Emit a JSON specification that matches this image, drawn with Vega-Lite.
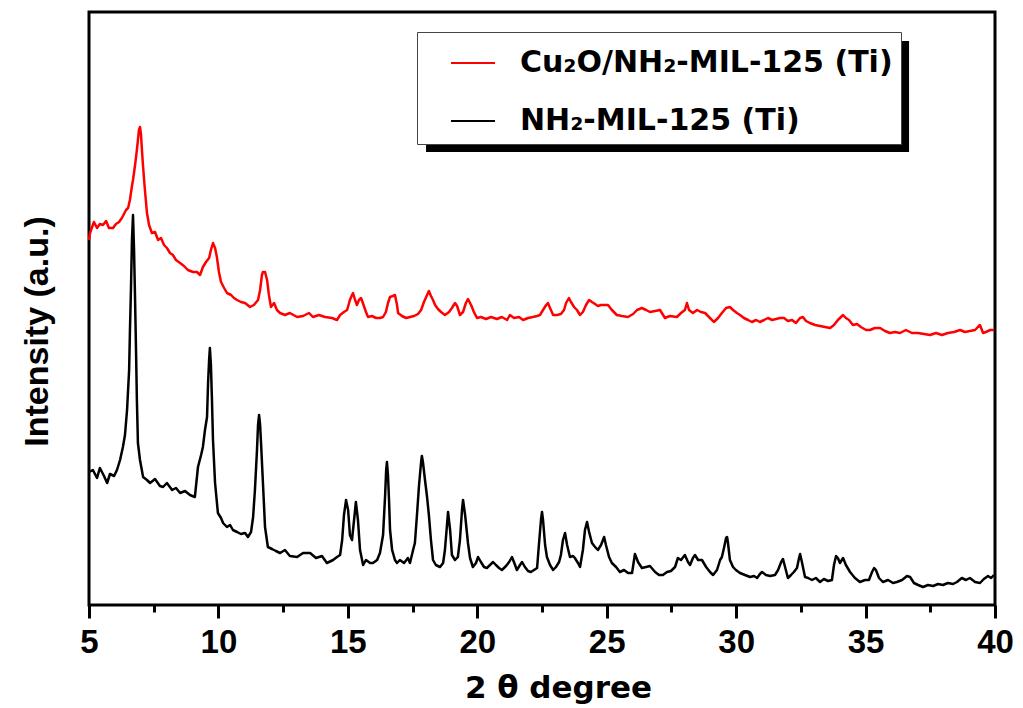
{
  "$schema": "https://vega.github.io/schema/vega-lite/v6.json",
  "autosize": {"type": "none"},
  "padding": {"left": 89, "top": 12, "right": 28, "bottom": 103},
  "width": 906,
  "height": 593,
  "background": "white",
  "datasets": {
    "composite": [
      {"two_theta":5.00,"intensity":365},{"two_theta":5.04,"intensity":372},{"two_theta":5.12,"intensity":378},{"two_theta":5.19,"intensity":383},{"two_theta":5.31,"intensity":377},{"two_theta":5.42,"intensity":381},{"two_theta":5.54,"intensity":380},{"two_theta":5.66,"intensity":384},{"two_theta":5.77,"intensity":377},{"two_theta":5.93,"intensity":377},{"two_theta":6.04,"intensity":381},{"two_theta":6.16,"intensity":383},{"two_theta":6.27,"intensity":387},{"two_theta":6.35,"intensity":391},{"two_theta":6.43,"intensity":395},{"two_theta":6.51,"intensity":397},{"two_theta":6.58,"intensity":405},{"two_theta":6.66,"intensity":419},{"two_theta":6.70,"intensity":425},{"two_theta":6.78,"intensity":440},{"two_theta":6.85,"intensity":455},{"two_theta":6.89,"intensity":465},{"two_theta":6.93,"intensity":475},{"two_theta":6.97,"intensity":478},{"two_theta":7.01,"intensity":470},{"two_theta":7.05,"intensity":453},{"two_theta":7.09,"intensity":438},{"two_theta":7.16,"intensity":415},{"two_theta":7.24,"intensity":392},{"two_theta":7.32,"intensity":380},{"two_theta":7.43,"intensity":372},{"two_theta":7.55,"intensity":373},{"two_theta":7.67,"intensity":365},{"two_theta":7.78,"intensity":367},{"two_theta":7.90,"intensity":360},{"two_theta":8.01,"intensity":357},{"two_theta":8.13,"intensity":352},{"two_theta":8.24,"intensity":350},{"two_theta":8.36,"intensity":345},{"two_theta":8.52,"intensity":342},{"two_theta":8.67,"intensity":339},{"two_theta":8.82,"intensity":335},{"two_theta":9.02,"intensity":333},{"two_theta":9.17,"intensity":333},{"two_theta":9.29,"intensity":330},{"two_theta":9.40,"intensity":338},{"two_theta":9.52,"intensity":343},{"two_theta":9.64,"intensity":347},{"two_theta":9.71,"intensity":355},{"two_theta":9.79,"intensity":362},{"two_theta":9.87,"intensity":357},{"two_theta":9.94,"intensity":348},{"two_theta":10.02,"intensity":333},{"two_theta":10.10,"intensity":323},{"two_theta":10.22,"intensity":317},{"two_theta":10.33,"intensity":312},{"two_theta":10.49,"intensity":310},{"two_theta":10.60,"intensity":307},{"two_theta":10.72,"intensity":305},{"two_theta":10.87,"intensity":303},{"two_theta":11.03,"intensity":302},{"two_theta":11.22,"intensity":298},{"two_theta":11.37,"intensity":300},{"two_theta":11.53,"intensity":305},{"two_theta":11.61,"intensity":315},{"two_theta":11.68,"intensity":330},{"two_theta":11.72,"intensity":333},{"two_theta":11.80,"intensity":333},{"two_theta":11.88,"intensity":325},{"two_theta":11.95,"intensity":310},{"two_theta":12.03,"intensity":298},{"two_theta":12.15,"intensity":302},{"two_theta":12.26,"intensity":295},{"two_theta":12.38,"intensity":292},{"two_theta":12.57,"intensity":290},{"two_theta":12.76,"intensity":292},{"two_theta":13.04,"intensity":288},{"two_theta":13.27,"intensity":289},{"two_theta":13.50,"intensity":292},{"two_theta":13.65,"intensity":288},{"two_theta":13.88,"intensity":290},{"two_theta":14.12,"intensity":288},{"two_theta":14.39,"intensity":287},{"two_theta":14.58,"intensity":285},{"two_theta":14.70,"intensity":290},{"two_theta":14.85,"intensity":293},{"two_theta":14.97,"intensity":295},{"two_theta":15.08,"intensity":305},{"two_theta":15.16,"intensity":310},{"two_theta":15.20,"intensity":312},{"two_theta":15.28,"intensity":305},{"two_theta":15.35,"intensity":300},{"two_theta":15.43,"intensity":305},{"two_theta":15.51,"intensity":307},{"two_theta":15.58,"intensity":302},{"two_theta":15.70,"intensity":293},{"two_theta":15.78,"intensity":288},{"two_theta":15.93,"intensity":289},{"two_theta":16.09,"intensity":287},{"two_theta":16.24,"intensity":287},{"two_theta":16.36,"intensity":288},{"two_theta":16.47,"intensity":293},{"two_theta":16.55,"intensity":302},{"two_theta":16.63,"intensity":308},{"two_theta":16.74,"intensity":309},{"two_theta":16.82,"intensity":310},{"two_theta":16.90,"intensity":300},{"two_theta":16.94,"intensity":292},{"two_theta":17.09,"intensity":289},{"two_theta":17.25,"intensity":287},{"two_theta":17.40,"intensity":288},{"two_theta":17.56,"intensity":289},{"two_theta":17.71,"intensity":291},{"two_theta":17.83,"intensity":295},{"two_theta":17.94,"intensity":303},{"two_theta":18.06,"intensity":310},{"two_theta":18.13,"intensity":314},{"two_theta":18.21,"intensity":309},{"two_theta":18.29,"intensity":305},{"two_theta":18.37,"intensity":300},{"two_theta":18.48,"intensity":296},{"two_theta":18.60,"intensity":293},{"two_theta":18.75,"intensity":290},{"two_theta":18.91,"intensity":293},{"two_theta":19.02,"intensity":297},{"two_theta":19.14,"intensity":302},{"two_theta":19.22,"intensity":299},{"two_theta":19.33,"intensity":290},{"two_theta":19.45,"intensity":293},{"two_theta":19.56,"intensity":302},{"two_theta":19.64,"intensity":306},{"two_theta":19.76,"intensity":300},{"two_theta":19.87,"intensity":293},{"two_theta":19.99,"intensity":287},{"two_theta":20.14,"intensity":288},{"two_theta":20.34,"intensity":286},{"two_theta":20.53,"intensity":288},{"two_theta":20.76,"intensity":286},{"two_theta":20.95,"intensity":288},{"two_theta":21.15,"intensity":285},{"two_theta":21.26,"intensity":290},{"two_theta":21.42,"intensity":287},{"two_theta":21.61,"intensity":288},{"two_theta":21.77,"intensity":285},{"two_theta":21.96,"intensity":287},{"two_theta":22.15,"intensity":288},{"two_theta":22.31,"intensity":289},{"two_theta":22.42,"intensity":290},{"two_theta":22.54,"intensity":295},{"two_theta":22.66,"intensity":300},{"two_theta":22.73,"intensity":302},{"two_theta":22.81,"intensity":297},{"two_theta":22.93,"intensity":290},{"two_theta":23.08,"intensity":290},{"two_theta":23.23,"intensity":291},{"two_theta":23.35,"intensity":295},{"two_theta":23.43,"intensity":302},{"two_theta":23.54,"intensity":307},{"two_theta":23.62,"intensity":303},{"two_theta":23.74,"intensity":298},{"two_theta":23.85,"intensity":295},{"two_theta":23.97,"intensity":290},{"two_theta":24.08,"intensity":293},{"two_theta":24.20,"intensity":300},{"two_theta":24.32,"intensity":305},{"two_theta":24.43,"intensity":303},{"two_theta":24.55,"intensity":301},{"two_theta":24.66,"intensity":299},{"two_theta":24.78,"intensity":300},{"two_theta":24.93,"intensity":300},{"two_theta":25.05,"intensity":300},{"two_theta":25.20,"intensity":295},{"two_theta":25.39,"intensity":290},{"two_theta":25.59,"intensity":289},{"two_theta":25.82,"intensity":288},{"two_theta":26.02,"intensity":291},{"two_theta":26.17,"intensity":295},{"two_theta":26.36,"intensity":297},{"two_theta":26.52,"intensity":295},{"two_theta":26.67,"intensity":293},{"two_theta":26.87,"intensity":294},{"two_theta":27.06,"intensity":295},{"two_theta":27.25,"intensity":287},{"two_theta":27.44,"intensity":289},{"two_theta":27.71,"intensity":288},{"two_theta":27.87,"intensity":292},{"two_theta":28.02,"intensity":295},{"two_theta":28.10,"intensity":302},{"two_theta":28.18,"intensity":295},{"two_theta":28.33,"intensity":292},{"two_theta":28.49,"intensity":295},{"two_theta":28.64,"intensity":293},{"two_theta":28.80,"intensity":292},{"two_theta":28.99,"intensity":287},{"two_theta":29.14,"intensity":283},{"two_theta":29.30,"intensity":287},{"two_theta":29.45,"intensity":292},{"two_theta":29.61,"intensity":297},{"two_theta":29.76,"intensity":298},{"two_theta":29.88,"intensity":295},{"two_theta":30.03,"intensity":292},{"two_theta":30.15,"intensity":290},{"two_theta":30.30,"intensity":287},{"two_theta":30.46,"intensity":285},{"two_theta":30.61,"intensity":283},{"two_theta":30.77,"intensity":285},{"two_theta":30.92,"intensity":283},{"two_theta":31.08,"intensity":285},{"two_theta":31.23,"intensity":287},{"two_theta":31.39,"intensity":285},{"two_theta":31.54,"intensity":286},{"two_theta":31.69,"intensity":287},{"two_theta":31.85,"intensity":287},{"two_theta":32.00,"intensity":284},{"two_theta":32.16,"intensity":285},{"two_theta":32.31,"intensity":282},{"two_theta":32.47,"intensity":287},{"two_theta":32.58,"intensity":288},{"two_theta":32.70,"intensity":284},{"two_theta":32.85,"intensity":282},{"two_theta":33.05,"intensity":280},{"two_theta":33.24,"intensity":279},{"two_theta":33.43,"intensity":278},{"two_theta":33.63,"intensity":277},{"two_theta":33.78,"intensity":280},{"two_theta":33.93,"intensity":285},{"two_theta":34.05,"intensity":288},{"two_theta":34.13,"intensity":290},{"two_theta":34.24,"intensity":287},{"two_theta":34.36,"intensity":285},{"two_theta":34.51,"intensity":280},{"two_theta":34.67,"intensity":281},{"two_theta":34.82,"intensity":278},{"two_theta":35.02,"intensity":275},{"two_theta":35.17,"intensity":275},{"two_theta":35.36,"intensity":277},{"two_theta":35.56,"intensity":277},{"two_theta":35.75,"intensity":274},{"two_theta":35.94,"intensity":272},{"two_theta":36.14,"intensity":273},{"two_theta":36.33,"intensity":272},{"two_theta":36.56,"intensity":275},{"two_theta":36.79,"intensity":272},{"two_theta":37.03,"intensity":272},{"two_theta":37.26,"intensity":271},{"two_theta":37.49,"intensity":270},{"two_theta":37.72,"intensity":272},{"two_theta":37.95,"intensity":270},{"two_theta":38.18,"intensity":272},{"two_theta":38.42,"intensity":273},{"two_theta":38.65,"intensity":275},{"two_theta":38.84,"intensity":273},{"two_theta":39.03,"intensity":274},{"two_theta":39.23,"intensity":275},{"two_theta":39.34,"intensity":278},{"two_theta":39.42,"intensity":280},{"two_theta":39.54,"intensity":272},{"two_theta":39.65,"intensity":273},{"two_theta":39.81,"intensity":275},{"two_theta":39.96,"intensity":275}
    ],
    "mof": [
      {"two_theta":5.00,"intensity":133},{"two_theta":5.15,"intensity":135},{"two_theta":5.31,"intensity":127},{"two_theta":5.42,"intensity":137},{"two_theta":5.58,"intensity":129},{"two_theta":5.70,"intensity":122},{"two_theta":5.81,"intensity":131},{"two_theta":5.97,"intensity":129},{"two_theta":6.08,"intensity":135},{"two_theta":6.20,"intensity":145},{"two_theta":6.31,"intensity":158},{"two_theta":6.39,"intensity":170},{"two_theta":6.47,"intensity":195},{"two_theta":6.55,"intensity":235},{"two_theta":6.58,"intensity":272},{"two_theta":6.62,"intensity":315},{"two_theta":6.66,"intensity":365},{"two_theta":6.70,"intensity":390},{"two_theta":6.74,"intensity":355},{"two_theta":6.78,"intensity":305},{"two_theta":6.82,"intensity":250},{"two_theta":6.85,"intensity":205},{"two_theta":6.89,"intensity":162},{"two_theta":6.97,"intensity":145},{"two_theta":7.09,"intensity":128},{"two_theta":7.24,"intensity":125},{"two_theta":7.36,"intensity":122},{"two_theta":7.55,"intensity":126},{"two_theta":7.74,"intensity":119},{"two_theta":7.86,"intensity":118},{"two_theta":8.01,"intensity":122},{"two_theta":8.21,"intensity":115},{"two_theta":8.36,"intensity":117},{"two_theta":8.52,"intensity":112},{"two_theta":8.71,"intensity":114},{"two_theta":8.90,"intensity":110},{"two_theta":9.09,"intensity":108},{"two_theta":9.21,"intensity":138},{"two_theta":9.33,"intensity":150},{"two_theta":9.40,"intensity":158},{"two_theta":9.48,"intensity":175},{"two_theta":9.56,"intensity":188},{"two_theta":9.60,"intensity":222},{"two_theta":9.64,"intensity":245},{"two_theta":9.67,"intensity":257},{"two_theta":9.71,"intensity":240},{"two_theta":9.75,"intensity":205},{"two_theta":9.79,"intensity":165},{"two_theta":9.87,"intensity":122},{"two_theta":9.98,"intensity":92},{"two_theta":10.10,"intensity":87},{"two_theta":10.18,"intensity":82},{"two_theta":10.33,"intensity":78},{"two_theta":10.45,"intensity":80},{"two_theta":10.56,"intensity":75},{"two_theta":10.72,"intensity":73},{"two_theta":10.87,"intensity":71},{"two_theta":11.03,"intensity":72},{"two_theta":11.14,"intensity":68},{"two_theta":11.26,"intensity":73},{"two_theta":11.34,"intensity":88},{"two_theta":11.41,"intensity":115},{"two_theta":11.49,"intensity":155},{"two_theta":11.53,"intensity":180},{"two_theta":11.57,"intensity":190},{"two_theta":11.61,"intensity":180},{"two_theta":11.65,"intensity":160},{"two_theta":11.69,"intensity":138},{"two_theta":11.76,"intensity":100},{"two_theta":11.80,"intensity":78},{"two_theta":11.91,"intensity":58},{"two_theta":12.07,"intensity":56},{"two_theta":12.22,"intensity":54},{"two_theta":12.38,"intensity":52},{"two_theta":12.57,"intensity":55},{"two_theta":12.76,"intensity":49},{"two_theta":13.04,"intensity":48},{"two_theta":13.27,"intensity":52},{"two_theta":13.54,"intensity":52},{"two_theta":13.77,"intensity":47},{"two_theta":14.00,"intensity":49},{"two_theta":14.19,"intensity":42},{"two_theta":14.43,"intensity":45},{"two_theta":14.58,"intensity":48},{"two_theta":14.70,"intensity":50},{"two_theta":14.78,"intensity":65},{"two_theta":14.85,"intensity":90},{"two_theta":14.93,"intensity":105},{"two_theta":15.01,"intensity":95},{"two_theta":15.08,"intensity":70},{"two_theta":15.16,"intensity":65},{"two_theta":15.24,"intensity":85},{"two_theta":15.31,"intensity":103},{"two_theta":15.39,"intensity":85},{"two_theta":15.47,"intensity":55},{"two_theta":15.59,"intensity":40},{"two_theta":15.70,"intensity":45},{"two_theta":15.86,"intensity":42},{"two_theta":15.97,"intensity":42},{"two_theta":16.13,"intensity":45},{"two_theta":16.24,"intensity":52},{"two_theta":16.36,"intensity":70},{"two_theta":16.44,"intensity":110},{"two_theta":16.48,"intensity":135},{"two_theta":16.51,"intensity":143},{"two_theta":16.55,"intensity":130},{"two_theta":16.59,"intensity":105},{"two_theta":16.63,"intensity":75},{"two_theta":16.71,"intensity":55},{"two_theta":16.82,"intensity":45},{"two_theta":16.90,"intensity":42},{"two_theta":17.01,"intensity":45},{"two_theta":17.17,"intensity":42},{"two_theta":17.32,"intensity":47},{"two_theta":17.40,"intensity":42},{"two_theta":17.52,"intensity":55},{"two_theta":17.59,"intensity":62},{"two_theta":17.67,"intensity":90},{"two_theta":17.75,"intensity":120},{"two_theta":17.83,"intensity":143},{"two_theta":17.86,"intensity":149},{"two_theta":17.90,"intensity":143},{"two_theta":17.98,"intensity":125},{"two_theta":18.06,"intensity":108},{"two_theta":18.13,"intensity":90},{"two_theta":18.21,"intensity":65},{"two_theta":18.29,"intensity":45},{"two_theta":18.40,"intensity":40},{"two_theta":18.56,"intensity":38},{"two_theta":18.68,"intensity":42},{"two_theta":18.75,"intensity":55},{"two_theta":18.83,"intensity":80},{"two_theta":18.87,"intensity":93},{"two_theta":18.95,"intensity":75},{"two_theta":19.02,"intensity":50},{"two_theta":19.14,"intensity":45},{"two_theta":19.25,"intensity":48},{"two_theta":19.33,"intensity":65},{"two_theta":19.41,"intensity":95},{"two_theta":19.45,"intensity":105},{"two_theta":19.53,"intensity":90},{"two_theta":19.64,"intensity":62},{"two_theta":19.72,"intensity":47},{"two_theta":19.83,"intensity":38},{"two_theta":19.95,"intensity":42},{"two_theta":20.03,"intensity":48},{"two_theta":20.14,"intensity":43},{"two_theta":20.26,"intensity":38},{"two_theta":20.37,"intensity":37},{"two_theta":20.49,"intensity":40},{"two_theta":20.61,"intensity":43},{"two_theta":20.72,"intensity":40},{"two_theta":20.84,"intensity":37},{"two_theta":20.95,"intensity":35},{"two_theta":21.11,"intensity":39},{"two_theta":21.23,"intensity":43},{"two_theta":21.34,"intensity":48},{"two_theta":21.46,"intensity":40},{"two_theta":21.53,"intensity":35},{"two_theta":21.65,"intensity":40},{"two_theta":21.73,"intensity":43},{"two_theta":21.84,"intensity":38},{"two_theta":21.96,"intensity":34},{"two_theta":22.07,"intensity":33},{"two_theta":22.19,"intensity":35},{"two_theta":22.31,"intensity":37},{"two_theta":22.38,"intensity":60},{"two_theta":22.46,"intensity":85},{"two_theta":22.50,"intensity":93},{"two_theta":22.54,"intensity":85},{"two_theta":22.62,"intensity":60},{"two_theta":22.69,"intensity":48},{"two_theta":22.81,"intensity":40},{"two_theta":22.93,"intensity":35},{"two_theta":23.04,"intensity":38},{"two_theta":23.16,"intensity":43},{"two_theta":23.23,"intensity":50},{"two_theta":23.31,"intensity":65},{"two_theta":23.39,"intensity":72},{"two_theta":23.47,"intensity":60},{"two_theta":23.58,"intensity":48},{"two_theta":23.70,"intensity":49},{"two_theta":23.77,"intensity":47},{"two_theta":23.89,"intensity":42},{"two_theta":23.97,"intensity":38},{"two_theta":24.08,"intensity":55},{"two_theta":24.16,"intensity":75},{"two_theta":24.24,"intensity":83},{"two_theta":24.32,"intensity":73},{"two_theta":24.43,"intensity":62},{"two_theta":24.55,"intensity":58},{"two_theta":24.66,"intensity":55},{"two_theta":24.78,"intensity":60},{"two_theta":24.90,"intensity":68},{"two_theta":24.97,"intensity":60},{"two_theta":25.09,"intensity":48},{"two_theta":25.20,"intensity":42},{"two_theta":25.36,"intensity":38},{"two_theta":25.51,"intensity":33},{"two_theta":25.67,"intensity":35},{"two_theta":25.82,"intensity":32},{"two_theta":25.98,"intensity":32},{"two_theta":26.09,"intensity":51},{"two_theta":26.21,"intensity":43},{"two_theta":26.36,"intensity":37},{"two_theta":26.52,"intensity":38},{"two_theta":26.67,"intensity":39},{"two_theta":26.87,"intensity":33},{"two_theta":27.02,"intensity":30},{"two_theta":27.17,"intensity":30},{"two_theta":27.33,"intensity":33},{"two_theta":27.48,"intensity":34},{"two_theta":27.64,"intensity":38},{"two_theta":27.75,"intensity":47},{"two_theta":27.87,"intensity":45},{"two_theta":28.02,"intensity":50},{"two_theta":28.14,"intensity":43},{"two_theta":28.22,"intensity":40},{"two_theta":28.33,"intensity":47},{"two_theta":28.41,"intensity":50},{"two_theta":28.53,"intensity":45},{"two_theta":28.68,"intensity":45},{"two_theta":28.84,"intensity":38},{"two_theta":28.99,"intensity":33},{"two_theta":29.11,"intensity":30},{"two_theta":29.26,"intensity":35},{"two_theta":29.38,"intensity":45},{"two_theta":29.45,"intensity":48},{"two_theta":29.53,"intensity":57},{"two_theta":29.61,"intensity":67},{"two_theta":29.65,"intensity":68},{"two_theta":29.68,"intensity":63},{"two_theta":29.76,"intensity":45},{"two_theta":29.88,"intensity":38},{"two_theta":29.99,"intensity":35},{"two_theta":30.15,"intensity":32},{"two_theta":30.34,"intensity":30},{"two_theta":30.54,"intensity":28},{"two_theta":30.69,"intensity":29},{"two_theta":30.81,"intensity":27},{"two_theta":30.92,"intensity":31},{"two_theta":31.00,"intensity":33},{"two_theta":31.15,"intensity":30},{"two_theta":31.31,"intensity":29},{"two_theta":31.50,"intensity":30},{"two_theta":31.62,"intensity":35},{"two_theta":31.74,"intensity":43},{"two_theta":31.81,"intensity":46},{"two_theta":31.89,"intensity":38},{"two_theta":32.00,"intensity":27},{"two_theta":32.12,"intensity":30},{"two_theta":32.23,"intensity":33},{"two_theta":32.35,"intensity":37},{"two_theta":32.43,"intensity":47},{"two_theta":32.47,"intensity":51},{"two_theta":32.54,"intensity":43},{"two_theta":32.66,"intensity":28},{"two_theta":32.78,"intensity":27},{"two_theta":32.93,"intensity":25},{"two_theta":33.08,"intensity":27},{"two_theta":33.24,"intensity":23},{"two_theta":33.39,"intensity":26},{"two_theta":33.55,"intensity":24},{"two_theta":33.70,"intensity":25},{"two_theta":33.78,"intensity":40},{"two_theta":33.86,"intensity":49},{"two_theta":33.93,"intensity":47},{"two_theta":34.01,"intensity":42},{"two_theta":34.13,"intensity":47},{"two_theta":34.24,"intensity":40},{"two_theta":34.40,"intensity":33},{"two_theta":34.59,"intensity":27},{"two_theta":34.78,"intensity":23},{"two_theta":34.98,"intensity":25},{"two_theta":35.13,"intensity":25},{"two_theta":35.25,"intensity":33},{"two_theta":35.33,"intensity":37},{"two_theta":35.40,"intensity":35},{"two_theta":35.52,"intensity":27},{"two_theta":35.67,"intensity":23},{"two_theta":35.87,"intensity":25},{"two_theta":36.06,"intensity":22},{"two_theta":36.21,"intensity":23},{"two_theta":36.41,"intensity":25},{"two_theta":36.60,"intensity":29},{"two_theta":36.72,"intensity":28},{"two_theta":36.87,"intensity":22},{"two_theta":37.03,"intensity":20},{"two_theta":37.22,"intensity":18},{"two_theta":37.41,"intensity":20},{"two_theta":37.61,"intensity":19},{"two_theta":37.80,"intensity":21},{"two_theta":37.99,"intensity":20},{"two_theta":38.18,"intensity":22},{"two_theta":38.38,"intensity":21},{"two_theta":38.53,"intensity":23},{"two_theta":38.72,"intensity":27},{"two_theta":38.88,"intensity":25},{"two_theta":39.03,"intensity":27},{"two_theta":39.23,"intensity":23},{"two_theta":39.42,"intensity":22},{"two_theta":39.57,"intensity":26},{"two_theta":39.73,"intensity":29},{"two_theta":39.85,"intensity":27},{"two_theta":39.96,"intensity":30}
    ]
  },
  "layer": [
    {
      "data": {"values": [{}]},
      "mark": {"type": "rect", "color": "black"},
      "encoding": {
        "x": {"datum": 18.02, "type": "quantitative"},
        "x2": {"datum": 36.68},
        "y": {"datum": 564, "type": "quantitative"},
        "y2": {"datum": 453}
      }
    },
    {
      "data": {"name": "composite"},
      "mark": {"type": "line", "strokeWidth": 2.5, "interpolate": "linear"},
      "encoding": {
        "x": {"field": "two_theta", "type": "quantitative"},
        "y": {"field": "intensity", "type": "quantitative"},
        "color": {"datum": "Cu₂O/NH₂-MIL-125 (Ti)"}
      }
    },
    {
      "data": {"name": "mof"},
      "mark": {"type": "line", "strokeWidth": 2.5, "interpolate": "linear"},
      "encoding": {
        "x": {"field": "two_theta", "type": "quantitative"},
        "y": {"field": "intensity", "type": "quantitative"},
        "color": {"datum": "NH₂-MIL-125 (Ti)"}
      }
    }
  ],
  "encoding": {
    "x": {
      "type": "quantitative",
      "scale": {"domain": [5, 40], "nice": false, "zero": false},
      "axis": {
        "title": "2 θ degree",
        "values": [5, 7.5, 10, 12.5, 15, 17.5, 20, 22.5, 25, 27.5, 30, 32.5, 35, 37.5, 40],
        "labelExpr": "datum.value % 5 === 0 ? datum.label : ''",
        "tickSize": {"condition": {"test": "datum.value % 5 === 0", "value": 13}, "value": 7},
        "tickWidth": 3,
        "tickColor": "black",
        "domain": false,
        "grid": false,
        "labelFont": "Liberation Sans",
        "labelFontWeight": "bold",
        "labelFontSize": 33,
        "labelColor": "black",
        "labelPadding": 8,
        "labelFlush": false,
        "labelOverlap": false,
        "titleFont": "DejaVu Sans",
        "titleFontWeight": "bold",
        "titleFontSize": 31,
        "titleColor": "black",
        "titleX": 469,
        "titleY": 92,
        "titleBaseline": "alphabetic"
      }
    },
    "y": {
      "type": "quantitative",
      "scale": {"domain": [0, 593], "nice": false, "zero": false},
      "axis": {
        "title": "Intensity (a.u.)",
        "labels": false,
        "ticks": false,
        "domain": false,
        "grid": false,
        "titleFont": "Liberation Sans",
        "titleFontWeight": "bold",
        "titleFontSize": 34,
        "titleColor": "black",
        "titleAngle": -90,
        "titleX": -42,
        "titleY": 319,
        "titleAlign": "center",
        "titleBaseline": "alphabetic"
      }
    },
    "color": {
      "type": "nominal",
      "scale": {"domain": ["Cu₂O/NH₂-MIL-125 (Ti)", "NH₂-MIL-125 (Ti)"], "range": ["#ff0000", "#000000"]},
      "legend": {
        "title": null,
        "orient": "none",
        "legendX": 328,
        "legendY": 20,
        "fillColor": "white",
        "strokeColor": "#444444",
        "padding": 8,
        "symbolType": "stroke",
        "symbolSize": 1936,
        "symbolOffset": 25,
        "symbolStrokeWidth": 2,
        "labelFont": "DejaVu Sans",
        "labelFontWeight": "bold",
        "labelFontSize": 30,
        "labelColor": "black",
        "labelOffset": 24,
        "labelLimit": 800,
        "rowPadding": 20
      }
    }
  },
  "config": {
    "view": {"stroke": "black", "strokeWidth": 3},
    "line": {"strokeJoin": "round"}
  }
}
